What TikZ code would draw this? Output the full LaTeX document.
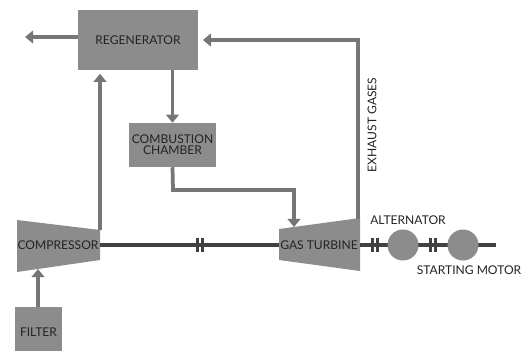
\documentclass[tikz,border=0pt]{standalone}
\usepackage{fontspec}
\setmainfont{Lato}
\usetikzlibrary{arrows.meta}
\definecolor{boxgray}{RGB}{140,140,140}
\definecolor{pipegray}{RGB}{118,118,118}
\definecolor{shaftgray}{RGB}{65,65,65}
\definecolor{textgray}{RGB}{35,35,35}
\tikzset{
  unit/.style={fill=boxgray, text=textgray, font=\fontsize{10.3}{11.5}\selectfont, align=center, inner sep=0pt},
  flow/.style={draw=pipegray, line width=3.2pt, -{Triangle[length=7pt,width=11pt]}},
  shaft/.style={draw=shaftgray, line width=3pt},
  lbl/.style={text=textgray, font=\fontsize{10.3}{11.5}\selectfont, inner sep=0pt}
}
\begin{document}
\begin{tikzpicture}[x=0.03cm, y=-0.03cm]
\useasboundingbox (0,0) rectangle (527,350);
%\draw[help lines,step=10] (0,0) grid (527,350);

% boxes
\node [unit, minimum width=3.6cm, minimum height=1.8cm] (regen) at (138,40) {REGENERATOR};
\node [unit, minimum width=2.61cm, minimum height=1.32cm] (comb) at (172.5,145) {COMBUSTION\\[-2pt]CHAMBER};
\node [unit, minimum width=1.41cm, minimum height=1.5cm] (filter) at (38.5,332) {FILTER};

% compressor and turbine
\fill [boxgray] (17,220) -- (100,230) -- (100,260) -- (17,272) -- cycle;
\node [lbl] (comp) at (58,245) {COMPRESSOR};
\fill [boxgray] (279,229) -- (360,218) -- (360,271) -- (279,260) -- cycle;
\node [lbl] (turb) at (319,245) {GAS TURBINE};
\coordinate (compout) at (100,230);
\coordinate (compin) at (38,269);
\coordinate (turbin) at (294,227);
\coordinate (turbout) at (358,219);
\coordinate (waste) at (25,37);

% shaft line
\draw [shaft] (100,245) -- (279,245);
\draw [shaft] (360,245) -- (496,245);
\foreach \cx in {200,375,433}
  \draw [shaftgray, line width=2pt] (\cx-2.5,238) -- (\cx-2.5,252) (\cx+2.5,238) -- (\cx+2.5,252);
\node [circle, fill=boxgray, minimum size=0.93cm, inner sep=0pt] (alt) at (403,245) {};
\node [circle, fill=boxgray, minimum size=0.93cm, inner sep=0pt] (motor) at (463,245) {};
\node [lbl] (altlbl) at (408,220) {ALTERNATOR};
\node [lbl] (motorlbl) at (469,270) {STARTING MOTOR};

% gas flow
\draw [flow] (regen.west |- waste) -- (waste);
\draw [flow, shorten >=4pt] (turbout) -- (turbout |- regen.east) -- (regen.east);
\draw [flow, shorten >=3pt] (compout) -- (compout |- regen.south);
\draw [flow] (regen.south -| comb.north) -- (comb.north);
\draw [flow] (comb.south) -- (173,190) -- (294,190) -- (turbin);
\draw [flow] (filter.north -| compin) -- (compin);
\node [lbl, rotate=90] (exh) at (372,125) {EXHAUST GASES};
\end{tikzpicture}
\end{document}
